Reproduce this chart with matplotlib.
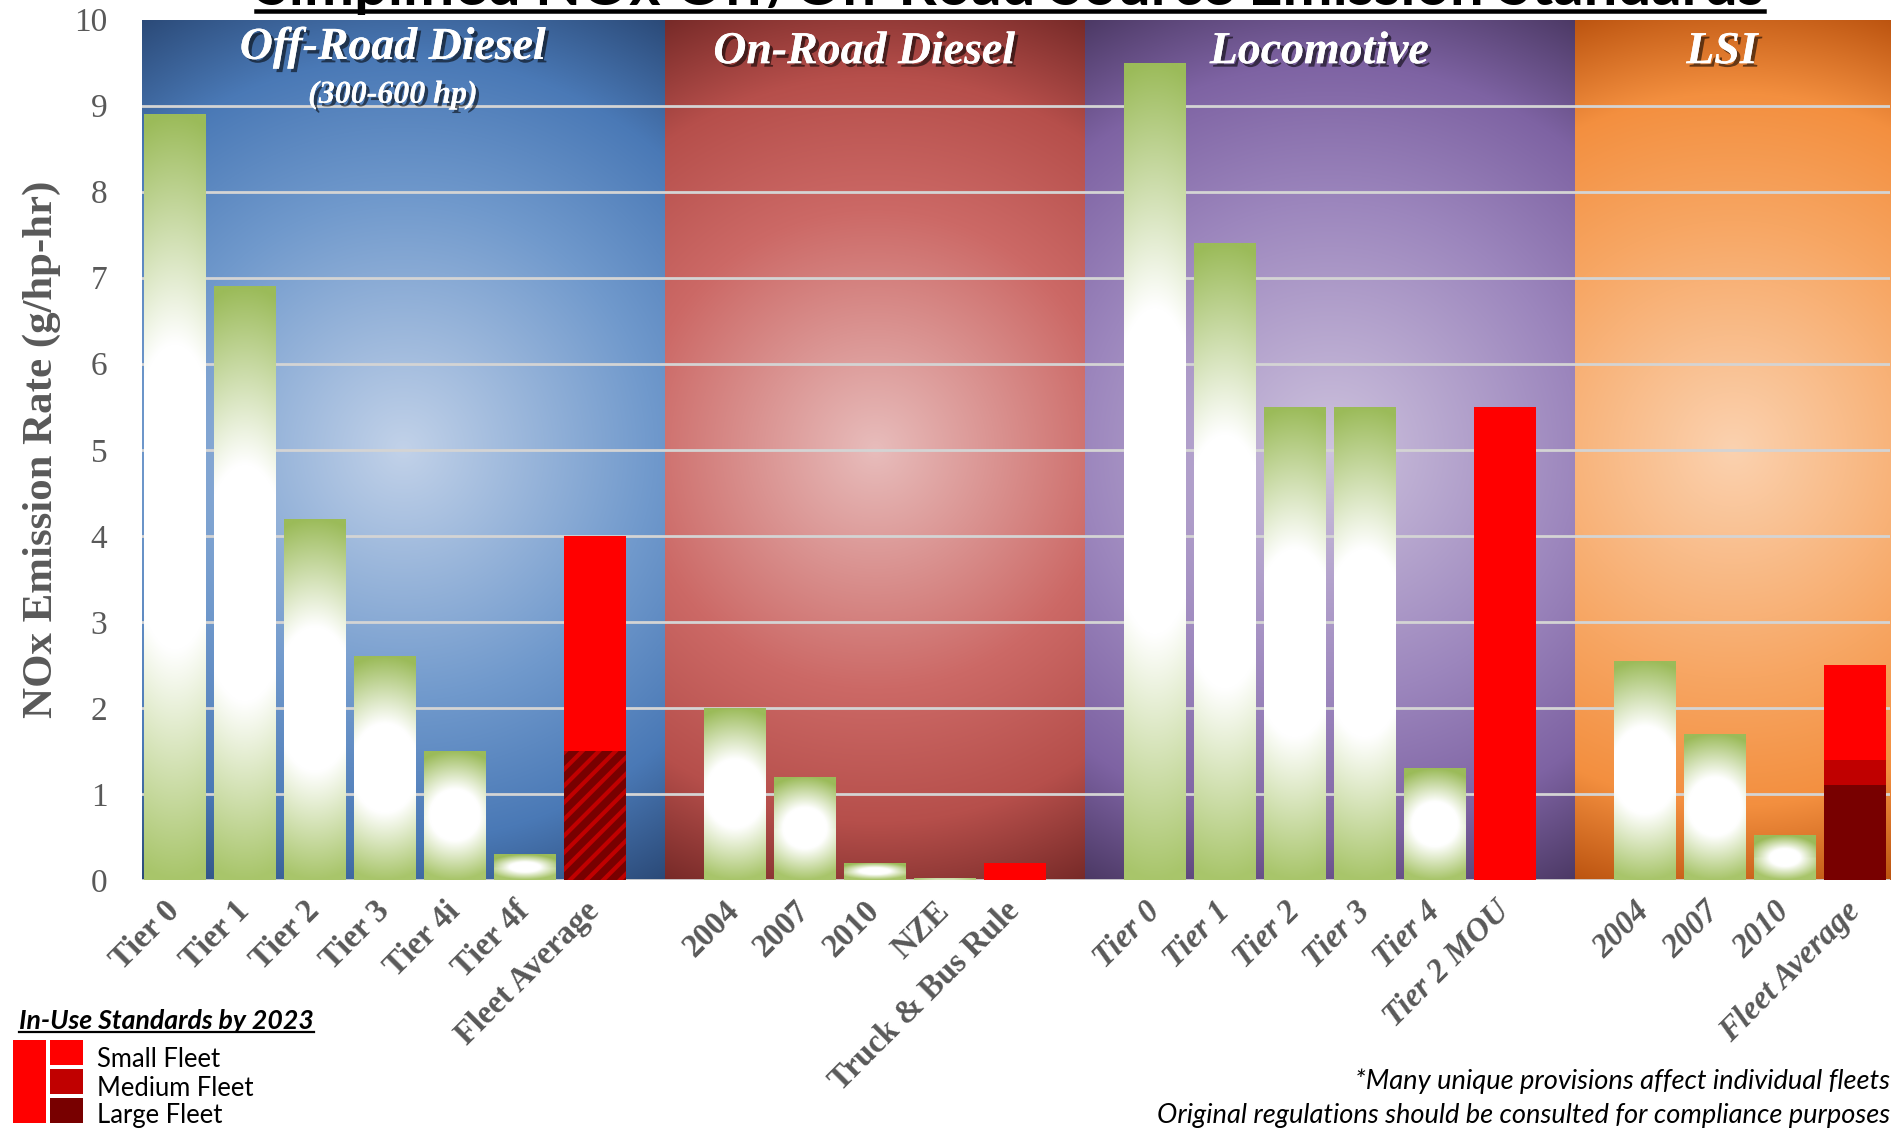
import numpy as np
import matplotlib
matplotlib.use("Agg")
import matplotlib.pyplot as plt
import matplotlib.patheffects as pe
from matplotlib.colors import to_rgb
from matplotlib.patches import Rectangle
from matplotlib.lines import Line2D

# ---------------- data ----------------
group_names = ["Off-Road Diesel", "On-Road Diesel", "Locomotive", "LSI"]
offroad_subtitle = "(300-600 hp)"

offroad_labels = ["Tier 0", "Tier 1", "Tier 2", "Tier 3", "Tier 4i", "Tier 4f", "Fleet Average"]
offroad_standards = [8.9, 6.9, 4.2, 2.6, 1.5, 0.3]
offroad_fleet_total = 4.0
offroad_fleet_lower = 1.5

onroad_labels = ["2004", "2007", "2010", "NZE", "Truck & Bus Rule"]
onroad_standards = [2.0, 1.2, 0.2, 0.02]
onroad_truck_bus = 0.2

loco_labels = ["Tier 0", "Tier 1", "Tier 2", "Tier 3", "Tier 4", "Tier 2 MOU"]
loco_standards = [9.5, 7.4, 5.5, 5.5, 1.3]
loco_mou = 5.5

lsi_labels = ["2004", "2007", "2010", "Fleet Average"]
lsi_standards = [2.55, 1.7, 0.52]
lsi_fleet_small = 2.5
lsi_fleet_medium = 1.4
lsi_fleet_large = 1.1

y_ticks = [0, 1, 2, 3, 4, 5, 6, 7, 8, 9, 10]

title = "Simplified NOx Off/On-Road Source Emission Standards"
ylabel = "NOx Emission Rate (g/hp-hr)"
legend_title = "In-Use Standards by 2023"
legend_labels = ["Small Fleet", "Medium Fleet", "Large Fleet"]
footnotes = ["*Many unique provisions affect individual fleets",
             "Original regulations should be consulted for compliance purposes"]

# ---------------- styling ----------------
W, H = 1892, 1129
GREEN = "#9BBB59"
GREEN_LOW = "#A8C56A"
RED_S, RED_M, RED_L = "#FF0000", "#C00000", "#780000"
TICK_GRAY = "#595959"
SERIF = "Liberation Serif"
SANS = "Lato"
bg_stops = [
    ["#C2D2E9", "#7099CC", "#4A79B6", "#2B4A78"],   # blue
    ["#E8BDBC", "#CC6966", "#B64F4B", "#772A28"],   # red
    ["#CEC3DE", "#9C86BD", "#7E63A3", "#4C3965"],   # purple
    ["#FBD2B0", "#F7A663", "#F38F3F", "#BC5410"],   # orange
]
stop_pos = [0.0, 0.5, 0.78, 1.0]
BAR_W = 0.88

plt.rcParams["hatch.linewidth"] = 3.0

fig = plt.figure(figsize=(W / 100, H / 100), dpi=100)
ax_left, ax_right, ax_top, ax_bot = 142, 1890, 19.5, 880
ax = fig.add_axes([ax_left / W, (H - ax_bot) / H, (ax_right - ax_left) / W, (ax_bot - ax_top) / H])
XMIN, XMAX = -0.47, 24.5
YMIN, YMAX = 0, 10
px_per_x = (ax_right - ax_left) / (XMAX - XMIN)
px_per_y = (ax_bot - ax_top) / (YMAX - YMIN)

# slot positions (one empty slot between groups)
groups = [offroad_labels, onroad_labels, loco_labels, lsi_labels]
starts = []
s = 0
for g in groups:
    starts.append(s)
    s += len(g) + 1
positions = [list(range(st, st + len(g))) for st, g in zip(starts, groups)]
bounds = [XMIN] + [st - 1 for st in starts[1:]] + [XMAX]

# ---------------- backgrounds ----------------
def interp_stops(r, cols):
    cols = np.array([to_rgb(c) for c in cols])
    out = np.zeros(r.shape + (3,))
    for k in range(3):
        out[..., k] = np.interp(r, stop_pos, cols[:, k])
    return out

for i in range(4):
    x0, x1 = bounds[i], bounds[i + 1]
    wpx = (x1 - x0) * px_per_x
    hpx = (YMAX - YMIN) * px_per_y
    nx, ny = int(wpx // 2), int(hpx // 2)
    xx = (np.linspace(0, 1, nx) - 0.5) * wpx
    yy = (np.linspace(0, 1, ny) - 0.5) * hpx
    X, Y = np.meshgrid(xx, yy)
    r = np.sqrt(X ** 2 + Y ** 2) / np.sqrt((wpx / 2) ** 2 + (hpx / 2) ** 2)
    img = interp_stops(r, bg_stops[i])
    ax.imshow(img, extent=[x0, x1, YMIN, YMAX], origin="lower", aspect="auto",
              interpolation="bilinear", zorder=0.1)

# gridlines
for yv in y_ticks[:-1]:
    ax.axhline(yv, color="#D4D4D4", lw=2.0, zorder=0.5)

# ---------------- bars ----------------
def green_fill(rect):
    x0 = rect.get_x(); w = rect.get_width(); h = rect.get_height()
    wpx = max(w * px_per_x, 2); hpx = max(h * px_per_y, 2)
    nx, ny = int(max(wpx, 4)), int(max(hpx, 4))
    U, V = np.meshgrid(np.linspace(-1, 1, nx), np.linspace(-1, 1, ny))
    c = 0.2 + 0.6 * min(1.0, wpx / hpx)
    d = np.sqrt(V ** 2 + (c * U) ** 2)
    t = np.clip((d - 0.4) / 0.6, 0, 1)[..., None]
    g_top = np.array(to_rgb(GREEN)); g_low = np.array(to_rgb(GREEN_LOW))
    gcol = np.where((V < 0)[..., None], g_low, g_top)
    img = (1 - t) * np.ones(3) + t * gcol
    im = ax.imshow(img, extent=[x0, x0 + w, 0, h], origin="lower", aspect="auto",
                   interpolation="bilinear", zorder=1.5)
    im.set_clip_path(rect)

std_sets = [offroad_standards, onroad_standards, loco_standards, lsi_standards]
for pos, vals in zip(positions, std_sets):
    bars = ax.bar(pos[:len(vals)], vals, width=BAR_W, facecolor="none",
                  edgecolor="none", zorder=2)
    for rect in bars:
        green_fill(rect)

# off-road fleet average
xf = positions[0][-1]
ax.bar(xf, offroad_fleet_lower, width=BAR_W, facecolor=RED_L, edgecolor=RED_M,
       hatch="//", linewidth=0, zorder=2)
ax.bar(xf, offroad_fleet_total - offroad_fleet_lower, bottom=offroad_fleet_lower,
       width=BAR_W, color=RED_S, zorder=2)
# on-road truck & bus
ax.bar(positions[1][-1], onroad_truck_bus, width=BAR_W, color=RED_S, zorder=2)
# locomotive MOU
ax.bar(positions[2][-1], loco_mou, width=BAR_W, color=RED_S, zorder=2)
# LSI fleet average
xl = positions[3][-1]
ax.bar(xl, lsi_fleet_large, width=BAR_W, color=RED_L, zorder=2)
ax.bar(xl, lsi_fleet_medium - lsi_fleet_large, bottom=lsi_fleet_large, width=BAR_W, color=RED_M, zorder=2)
ax.bar(xl, lsi_fleet_small - lsi_fleet_medium, bottom=lsi_fleet_medium, width=BAR_W, color=RED_S, zorder=2)

# ---------------- axes ----------------
ax.set_xlim(XMIN, XMAX)
ax.set_ylim(YMIN, YMAX)
for sp in ax.spines.values():
    sp.set_visible(False)
ax.set_yticks(y_ticks)
ax.set_yticklabels([str(v) for v in y_ticks], fontfamily=SERIF, fontsize=24, color=TICK_GRAY)
ax.tick_params(axis="y", length=0, pad=25)

all_pos = [p for g in positions for p in g]
all_lab = [l for g in groups for l in g]
ax.set_xticks(all_pos)
ax.set_xticklabels(all_lab, rotation=45, ha="right", va="center", rotation_mode="anchor",
                   fontfamily=SERIF, fontsize=23.5, fontweight="bold", color=TICK_GRAY)
ax.tick_params(axis="x", length=0, pad=19)
n_plain = len(offroad_labels) + len(onroad_labels)
for i, lab in enumerate(ax.get_xticklabels()):
    if i >= n_plain:
        lab.set_fontstyle("italic")

# ---------------- headers ----------------
shadow = [pe.withSimplePatchShadow(offset=(2.5, -2.5), shadow_rgbFace="black", alpha=0.55), pe.Normal()]
for i, name in enumerate(group_names):
    cx = (bounds[i] + bounds[i + 1]) / 2 - 0.15
    yv = 9.67 if i == 0 else 9.62
    ax.text(cx, yv, name, ha="center", va="center", fontfamily=SERIF, fontsize=33,
            fontweight="bold", fontstyle="italic", color="white", path_effects=shadow, zorder=5)
ax.text((bounds[0] + bounds[1]) / 2 - 0.15, 9.12, offroad_subtitle, ha="center", va="center",
        fontfamily=SERIF, fontsize=23, fontweight="bold", fontstyle="italic", color="white",
        path_effects=shadow, zorder=5)

# ---------------- figure texts ----------------
renderer = fig.canvas.get_renderer()

def fit(t, target, axis=0):
    for _ in range(3):
        bb = t.get_window_extent(renderer)
        cur = bb.width if axis == 0 else bb.height
        t.set_fontsize(t.get_fontsize() * target / cur)

def fy(px_from_top):
    return 1 - px_from_top / H

t = fig.text(1010 / W, fy(5), title, ha="center", va="baseline", fontfamily=SANS,
             fontweight="bold", fontsize=40, color="black")
fit(t, 1508)
fig.add_artist(Line2D([256 / W, 1764 / W], [fy(10.5)] * 2, lw=4.5 * 0.72, color="black",
                      transform=fig.transFigure))

t = fig.text(42 / W, fy(449), ylabel, rotation=90, ha="center", va="center", fontfamily=SERIF,
             fontweight="bold", fontsize=30, color=TICK_GRAY)
fit(t, 537, axis=1)

t = fig.text(19 / W, fy(1029), legend_title, ha="left", va="baseline", fontfamily=SANS,
             fontweight="bold", fontstyle="italic", fontsize=18, color="black")
fit(t, 295)
fig.add_artist(Line2D([19 / W, 314 / W], [fy(1032)] * 2, lw=1.6, color="black",
                      transform=fig.transFigure))

def frect(x0, y0top, x1, y1top, color):
    fig.add_artist(Rectangle((x0 / W, fy(y1top)), (x1 - x0) / W, (y1top - y0top) / H,
                             transform=fig.transFigure, facecolor=color, edgecolor="none"))

frect(13, 1040, 46, 1123, RED_S)
box_rows = [(1040, 1065), (1069, 1094), (1098, 1123)]
for (a, b), col in zip(box_rows, [RED_S, RED_M, RED_L]):
    frect(50, a, 83, b, col)
legend_baselines = [1067, 1096, 1123]
lt = []
for lab, yb in zip(legend_labels, legend_baselines):
    lt.append(fig.text(97 / W, fy(yb), lab, ha="left", va="baseline", fontfamily=SANS,
                       fontsize=18, color="black"))
fit(lt[0], 123)
for o in lt[1:]:
    o.set_fontsize(lt[0].get_fontsize())

ft = []
for line, yb in zip(footnotes, [1089, 1123]):
    ft.append(fig.text(1890 / W, fy(yb), line, ha="right", va="baseline", fontfamily=SANS,
                       fontstyle="italic", fontsize=18, color="black"))
fit(ft[1], 732)
ft[0].set_fontsize(ft[1].get_fontsize())

fig.savefig("out.png", dpi=100)
